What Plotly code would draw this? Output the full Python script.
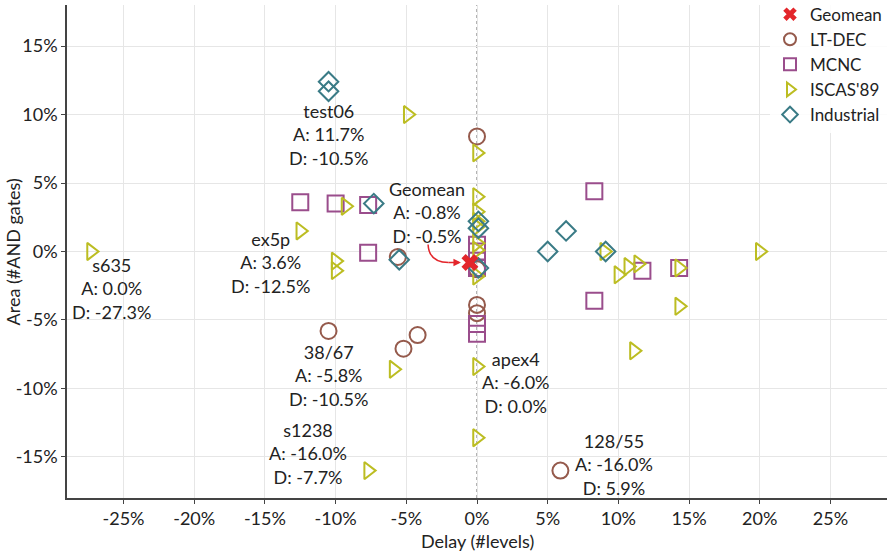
import plotly.graph_objects as go

# ---------------- data (delay %, area %) ----------------
ltdec_delay = [0.0, -5.6, 0.0, 0.0, 0.0, -10.5, -5.2, -4.2, 5.9]
ltdec_area = [8.4, -0.4, -1.3, -3.9, -4.5, -5.8, -7.1, -6.1, -16.0]

mcnc_delay = [-12.5, -10.0, -7.7, -7.7, 0.0, 0.0, 0.0, 0.0, 0.0, 8.3, 8.3, 11.7, 14.3]
mcnc_area = [3.6, 3.5, 3.4, -0.1, 0.5, 0.0, -1.2, -5.3, -6.0, 4.4, -3.6, -1.4, -1.2]

iscas_delay = [-27.3, -4.9, 0.0, -12.5, -9.3, -10.0, -10.0, -5.9, -7.7, 0.0, 0.0,
               0.0, 0.0, 0.0, 0.0, 0.0, 0.0, 0.0, 9.0, 10.0, 10.7, 11.4, 14.3,
               14.3, 11.1, 20.0]
iscas_area = [0.0, 10.0, 7.2, 1.5, 3.3, -0.7, -1.4, -8.6, -16.0, -8.4, -13.6,
              4.0, 2.9, 2.2, 1.8, 0.6, 0.1, -1.8, 0.0, -1.7, -1.1, -0.9, -1.2,
              -4.0, -7.25, 0.0]

ind_delay = [-10.5, -10.5, -7.3, -5.5, 0.1, 0.1, 0.1, 5.0, 6.3, 9.1]
ind_area = [12.4, 11.7, 3.5, -0.6, 2.2, 1.7, -1.2, 0.0, 1.5, 0.0]

geo_delay = [-0.5]
geo_area = [-0.8]

# labelled points: name, delay, area
label_names = ["test06", "ex5p", "s635", "38/67", "s1238", "apex4", "128/55"]
label_delay = [-10.5, -12.5, -27.3, -10.5, -7.7, 0.0, 5.9]
label_area = [11.7, 3.6, 0.0, -5.8, -16.0, -6.0, -16.0]
# text-centre offsets from the point (delay, area units)
label_dx = [0.0, -2.1, 1.45, 0.0, -4.27, 2.75, 3.8]
label_dy = [-3.14, -4.4, -2.7, -3.27, 1.22, -3.58, 0.42]

x_ticks = [-25, -20, -15, -10, -5, 0, 5, 10, 15, 20, 25]
y_ticks = [-15, -10, -5, 0, 5, 10, 15]
x_tick_text = [f"{v}%" for v in x_ticks]
y_tick_text = [f"{v}%" for v in y_ticks]

# ---------------- style ----------------
FONT = "Lato"
TXT = "#222"
C_LT = "#955a4c"
C_MC = "#9a4d8c"
C_IS = "#bcbd22"
C_IN = "#3a7b86"
C_GEO = "#e3262b"

fig = go.Figure()

fig.add_trace(go.Scatter(x=ltdec_delay, y=ltdec_area, mode="markers", name="LT-DEC",
                         legendrank=2,
                         marker=dict(symbol="circle-open", size=16, color=C_LT,
                                     line=dict(width=2, color=C_LT))))
fig.add_trace(go.Scatter(x=mcnc_delay, y=mcnc_area, mode="markers", name="MCNC",
                         legendrank=3,
                         marker=dict(symbol="square-open", size=16, color=C_MC,
                                     line=dict(width=2, color=C_MC))))
fig.add_trace(go.Scatter(x=iscas_delay, y=iscas_area, mode="markers", name="ISCAS'89",
                         legendrank=4,
                         marker=dict(symbol="triangle-right-open", size=15, color=C_IS,
                                     line=dict(width=2, color=C_IS))))
fig.add_trace(go.Scatter(x=ind_delay, y=ind_area, mode="markers", name="Industrial",
                         legendrank=5,
                         marker=dict(symbol="diamond-open", size=15, color=C_IN,
                                     line=dict(width=2, color=C_IN))))
fig.add_trace(go.Scatter(x=geo_delay, y=geo_area, mode="markers", name="Geomean",
                         legendrank=1,
                         marker=dict(symbol="x", size=15, color=C_GEO,
                                     line=dict(width=0))))

annotations = []
for n, dx_, ay_, ox, oy in zip(label_names, label_delay, label_area, label_dx, label_dy):
    annotations.append(dict(
        x=dx_ + ox, y=ay_ + oy, xref="x", yref="y",
        text=f"{n}<br>A: {ay_:.1f}%<br>D: {dx_:.1f}%",
        showarrow=False, align="center", xanchor="center", yanchor="middle",
        font=dict(family=FONT, size=18, color=TXT)))

gx, gy = geo_delay[0], geo_area[0]
annotations.append(dict(
    x=gx - 3.03, y=gy + 3.65, xref="x", yref="y",
    text=f"Geomean<br>A: {gy:.1f}%<br>D: {gx:.1f}%",
    showarrow=False, align="center", xanchor="center", yanchor="middle",
    font=dict(family=FONT, size=18, color=TXT)))
# arrow head part of the geomean pointer
annotations.append(dict(
    x=gx, y=gy, xref="x", yref="y", ax=gx - 1.6, ay=gy, axref="x", ayref="y",
    text="", showarrow=True, arrowhead=2, arrowsize=1, arrowwidth=1.5,
    arrowcolor=C_GEO, standoff=9))

# axis titles
annotations.append(dict(
    x=0.5, y=-0.087, xref="paper", yref="paper", text="Delay (#levels)",
    showarrow=False, xanchor="center", yanchor="middle",
    font=dict(family=FONT, size=18, color=TXT)))
annotations.append(dict(
    x=-0.066, y=0.5, xref="paper", yref="paper", text="Area (#AND gates)",
    textangle=-90, showarrow=False, xanchor="center", yanchor="middle",
    font=dict(family=FONT, size=18, color=TXT)))

shapes = [
    dict(type="line", xref="x", yref="paper", x0=0, x1=0, y0=0, y1=1,
         line=dict(color="#666", width=1, dash="dot"), layer="below"),
    dict(type="line", xref="paper", yref="y", x0=0, x1=1, y0=0, y1=0,
         line=dict(color="#666", width=1, dash="dot"), layer="below"),
    # curved part of the geomean pointer
    dict(type="path", xref="x", yref="y",
         path=f"M {gx-2.96},{gy+1.31} Q {gx-2.9},{gy} {gx-1.5},{gy}",
         line=dict(color=C_GEO, width=1.5)),
]

fig.update_layout(
    width=895, height=556,
    margin=dict(l=67, r=8, t=5, b=58, autoexpand=False),
    plot_bgcolor="white", paper_bgcolor="white",
    font=dict(family=FONT, size=18, color=TXT),
    showlegend=True,
    legend=dict(x=1.0, y=1.017, xanchor="right", yanchor="top",
                bgcolor="rgba(255,255,255,0.85)", borderwidth=0,
                font=dict(family=FONT, size=17, color=TXT),
                itemsizing="constant", tracegroupgap=0, itemwidth=30),
    annotations=annotations,
    shapes=shapes,
)

fig.update_xaxes(range=[-29, 29], tickvals=x_ticks, ticktext=x_tick_text,
                 showgrid=True, gridcolor="#e6e6e6", gridwidth=1, zeroline=False,
                 showline=True, linecolor="#444", linewidth=1.5,
                 ticks="outside", ticklen=4, tickcolor="#444", automargin=False,
                 tickfont=dict(family=FONT, size=18, color=TXT))
fig.update_yaxes(range=[-18, 18], tickvals=y_ticks, ticktext=y_tick_text,
                 showgrid=True, gridcolor="#e6e6e6", gridwidth=1, zeroline=False,
                 showline=True, linecolor="#444", linewidth=1.5,
                 ticks="outside", ticklen=4, tickcolor="#444", automargin=False,
                 tickfont=dict(family=FONT, size=18, color=TXT))

fig.write_html("out.html", config={"displayModeBar": False},
               post_script="document.body.style.margin='0';document.body.style.padding='0';")
